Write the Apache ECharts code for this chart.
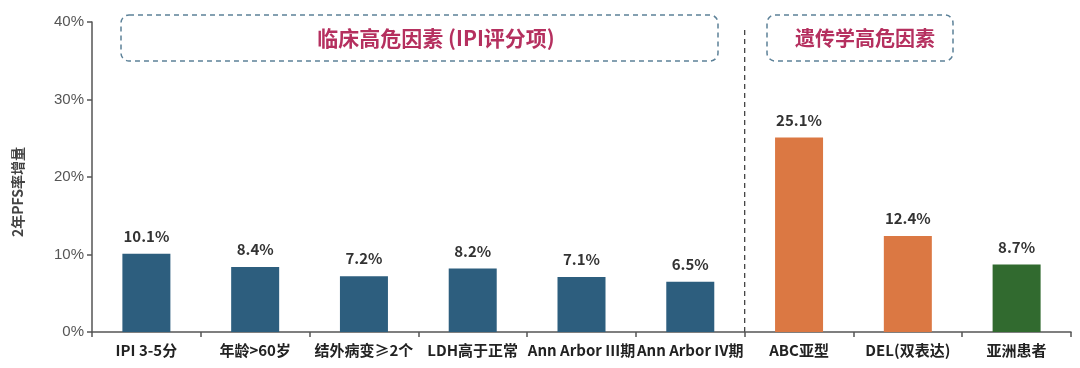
<!DOCTYPE html>
<html><head><meta charset="utf-8">
<script src="https://cdn.jsdelivr.net/npm/echarts@6/dist/echarts.min.js"></script>
<style>html,body{margin:0;padding:0;background:#fff}#c{width:1080px;height:368px}</style>
</head><body><div id="c"></div>
<script>
const categories = ['IPI 3-5分','年龄>60岁','结外病变≥2个','LDH高于正常','Ann Arbor III期','Ann Arbor IV期','ABC亚型','DEL(双表达)','亚洲患者'];
const values = [10.1, 8.4, 7.2, 8.2, 7.1, 6.5, 25.1, 12.4, 8.7];
const groups = ['clinical','clinical','clinical','clinical','clinical','clinical','genetic','genetic','region'];
const yTicks = [0, 10, 20, 30, 40];
const yAxisName = '2年PFS率增量';
const boxTitles = ['临床高危因素 (IPI评分项)', '遗传学高危因素'];

const colorMap = {clinical:'#2d5e7e', genetic:'#db7843', region:'#316a2f'};
const FONT = '"Noto Sans CJK SC", "Noto Sans", sans-serif';

const chart = echarts.init(document.getElementById('c'));
const option = {
  animation: false,
  grid: {left: 92, right: 9, top: 22, bottom: 36},
  xAxis: {
    type: 'category', data: categories,
    axisLine: {lineStyle: {color: '#555', width: 1.5}},
    axisTick: {show: true, length: 5, lineStyle: {color: '#555', width: 1.5}},
    axisLabel: {interval: 0, color: '#222', fontSize: 15, fontWeight: 'bold', fontFamily: FONT, margin: 11}
  },
  yAxis: {
    type: 'value', min: yTicks[0], max: yTicks[yTicks.length-1], interval: 10,
    axisLine: {show: true, lineStyle: {color: '#555', width: 1.5}},
    axisTick: {show: true, length: 5, lineStyle: {color: '#555', width: 1.5}},
    splitLine: {show: false},
    axisLabel: {color: '#555', fontSize: 15, fontFamily: 'Liberation Sans, Arial, sans-serif', formatter: '{value}%', margin: 8}
  },
  series: [{
    type: 'bar', barWidth: 48,
    data: values.map((v, i) => ({value: v, itemStyle: {color: colorMap[groups[i]]}})),
    label: {show: true, position: 'top', distance: 10, formatter: p => p.value.toFixed(1) + '%',
      color: '#333', fontSize: 15, fontWeight: 'bold', fontFamily: FONT}
  }]
};
chart.setOption(option);

const x0 = chart.convertToPixel({xAxisIndex: 0}, categories[0]);
const x1 = chart.convertToPixel({xAxisIndex: 0}, categories[1]);
const step = x1 - x0;
const divX = chart.convertToPixel({xAxisIndex: 0}, categories[5]) + step / 2;
const yBottom = chart.convertToPixel({yAxisIndex: 0}, 0);
const boxStroke = '#5c8198';
const titleStyle = {fill: '#b5305f', fontSize: 20, fontWeight: 'bold', fontFamily: FONT, textAlign: 'center', textVerticalAlign: 'middle'};
chart.setOption({
  graphic: [
    {type: 'line', shape: {x1: divX, y1: 30, x2: divX, y2: yBottom}, style: {stroke: '#444', lineWidth: 1.3, lineDash: [5, 4]}},
    {type: 'rect', shape: {x: 121, y: 15, width: 597, height: 46, r: 8}, style: {fill: 'none', stroke: boxStroke, lineWidth: 1.5, lineDash: [5, 4]}},
    {type: 'rect', shape: {x: 767, y: 15, width: 186, height: 46, r: 8}, style: {fill: 'none', stroke: boxStroke, lineWidth: 1.5, lineDash: [5, 4]}},
    {type: 'text', x: 436, y: 38, style: Object.assign({}, titleStyle, {text: boxTitles[0], fontSize: 21})},
    {type: 'text', x: 865, y: 38, style: Object.assign({}, titleStyle, {text: boxTitles[1]})},
    {type: 'text', x: 18, y: 192, rotation: Math.PI / 2,
      style: {text: yAxisName, fill: '#444', fontSize: 14, fontWeight: 'bold', fontFamily: FONT, textAlign: 'center', textVerticalAlign: 'middle'}}
  ]
});
</script></body></html>
